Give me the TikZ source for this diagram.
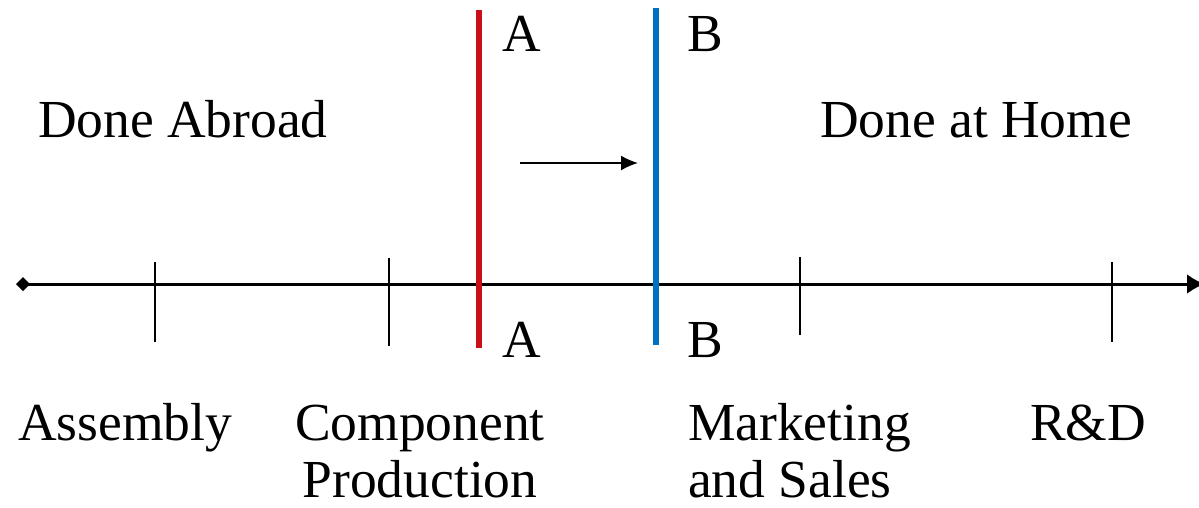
\documentclass[tikz,border=0pt]{standalone}
\usepackage{fontspec}
\setmainfont{Liberation Serif}
\usetikzlibrary{arrows.meta}
\definecolor{linered}{RGB}{200,16,22}
\definecolor{lineblue}{RGB}{0,112,192}
\begin{document}
\begin{tikzpicture}[x=1pt,y=-1pt,
  lbl/.style={inner sep=0pt,outer sep=0pt,font=\fontsize{53.5}{57}\selectfont},
  tick/.style={line width=1.8pt},
  axis/.style={line width=3pt,{Diamond[length=14pt,width=14pt]}-{Latex[length=18pt,width=20pt]}}]
\useasboundingbox (0,0) rectangle (1199,508);
\coordinate (L) at (16,284);
\coordinate (R) at (1205,284);
\draw[axis] (L) -- (R);
\foreach \x/\a/\b [count=\i] in {155/262/342, 389/258/346, 800/257/335, 1112/262/342}{
  \coordinate (t\i a) at (\x,\a);
  \coordinate (t\i b) at (\x,\b);
  \draw[tick] (t\i a) -- (t\i b);
}
\coordinate (ra) at (479,10); \coordinate (rb) at (479,348);
\coordinate (ba) at (656,8); \coordinate (bb) at (656,345);
\draw[linered,line width=5.5pt] (ra) -- (rb);
\draw[lineblue,line width=6.5pt] (ba) -- (bb);
\coordinate (ma) at (520,163); \coordinate (mb) at (638,163);
\draw[line width=1.8pt,-{Latex[length=17pt,width=15pt]}] (ma) -- (mb);
\node[lbl,anchor=base west] (abroad) at (38,138) {Done Abroad};
\node[lbl,anchor=base west] (home) at (820,138) {Done at Home};
\node[lbl,anchor=base west] (a1) at (502,52) {A};
\node[lbl,anchor=base west] (a2) at (502,357) {A};
\node[lbl,anchor=base west] (b1) at (687,52) {B};
\node[lbl,anchor=base west] (b2) at (687,357) {B};
\node[lbl,anchor=base west] (asm) at (18,440) {Assembly};
\node[lbl,anchor=base,align=center] (comp) at (420,497) {Component\\Production};
\node[lbl,anchor=base west,align=left] (mkt) at (688,497) {Marketing\\and Sales};
\node[lbl,anchor=base west] (rd) at (1030,440) {R\&D};
\end{tikzpicture}
\end{document}
